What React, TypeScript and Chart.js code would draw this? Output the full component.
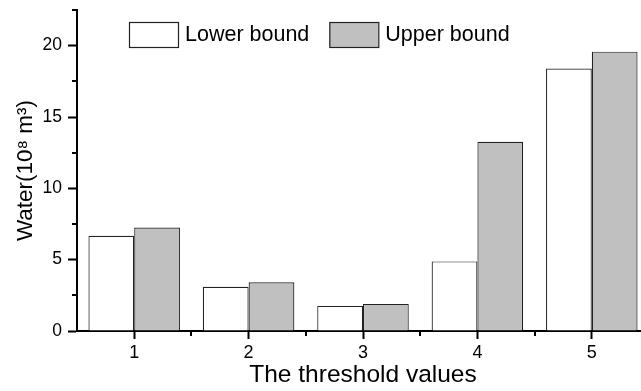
import React, { useEffect, useRef } from "react";
import { Chart, registerables } from "chart.js";

Chart.register(...registerables);

const categories = ["1", "2", "3", "4", "5"];
const lowerBound = [6.67, 3.1, 1.76, 4.88, 18.4];
const upperBound = [7.25, 3.41, 1.9, 13.26, 19.58];
const seriesNames = ["Lower bound", "Upper bound"];
const yMin = 0;
const yMax = 22.5;
const yStep = 5;

const FONT = "'Liberation Sans', Arial, sans-serif";

const minorTicks = {
  id: "minorTicks",
  afterDraw(chart: any) {
    const ctx = chart.ctx;
    const x = chart.scales.x;
    const y = chart.scales.y;
    ctx.save();
    ctx.strokeStyle = "#000";
    ctx.lineWidth = 2;
    for (let v = yMin + yStep / 2; v <= yMax + 1e-9; v += yStep) {
      const py = Math.round(y.getPixelForValue(v));
      ctx.beginPath();
      ctx.moveTo(y.right - 5, py);
      ctx.lineTo(y.right, py);
      ctx.stroke();
    }
    const n = categories.length;
    const step = n > 1 ? x.getPixelForValue(1) - x.getPixelForValue(0) : 0;
    for (let i = 0; i < n; i++) {
      const px = Math.round(x.getPixelForValue(i) + step / 2);
      ctx.beginPath();
      ctx.moveTo(px, x.top);
      ctx.lineTo(px, x.top + 5);
      ctx.stroke();
    }
    ctx.restore();
  },
};

const insideLegend = {
  id: "insideLegend",
  afterDraw(chart: any) {
    const ctx = chart.ctx;
    const area = chart.chartArea;
    const boxW = 49;
    const boxH = 25;
    const gap = 20;
    const fontSize = 21.5;
    let cx = area.left + 52;
    const top = area.top + 12;
    ctx.save();
    ctx.font = `${fontSize}px ${FONT}`;
    ctx.textBaseline = "middle";
    ctx.textAlign = "left";
    chart.data.datasets.forEach((ds: any) => {
      ctx.fillStyle = ds.backgroundColor;
      ctx.fillRect(cx, top, boxW, boxH);
      ctx.strokeStyle = "#222";
      ctx.lineWidth = 1.2;
      ctx.strokeRect(cx + 0.5, top + 0.5, boxW, boxH);
      ctx.fillStyle = "#000";
      const tx = cx + boxW + 7;
      ctx.fillText(ds.label, tx, top + boxH / 2 + 1);
      cx = tx + ctx.measureText(ds.label).width + gap;
    });
    ctx.restore();
  },
};

export default function App() {
  const ref = useRef<HTMLCanvasElement | null>(null);
  useEffect(() => {
    if (!ref.current) return;
    const chart = new Chart(ref.current, {
      type: "bar",
      data: {
        labels: categories,
        datasets: [
          {
            label: seriesNames[0],
            data: lowerBound,
            backgroundColor: "#ffffff",
            borderColor: "#222",
            borderWidth: 1.2,
            categoryPercentage: 0.8,
            barPercentage: 1.0,
          },
          {
            label: seriesNames[1],
            data: upperBound,
            backgroundColor: "#c0c0c0",
            borderColor: "#222",
            borderWidth: 1.2,
            categoryPercentage: 0.8,
            barPercentage: 1.0,
          },
        ],
      },
      options: {
        animation: false,
        responsive: false,
        devicePixelRatio: 1,
        layout: { padding: { left: 0, top: 10, right: 11, bottom: 0 } },
        plugins: {
          legend: { display: false },
          tooltip: { enabled: false },
        },
        scales: {
          x: {
            offset: true,
            grid: {
              offset: false,
              drawOnChartArea: false,
              drawTicks: true,
              tickLength: 8,
              tickWidth: 2,
              tickColor: "#000",
            },
            border: { display: true, color: "#000", width: 2 },
            ticks: {
              color: "#000",
              padding: 3,
              font: { family: FONT, size: 18 },
            },
            title: {
              display: true,
              text: "The threshold values",
              color: "#000",
              font: { family: FONT, size: 24.5 },
              padding: { top: 0, bottom: 1 },
            },
            afterFit: (s: any) => {
              s.height = 60;
              s.paddingLeft = 0;
              s.paddingRight = 0;
            },
          },
          y: {
            min: yMin,
            max: yMax,
            grid: {
              drawOnChartArea: false,
              drawTicks: true,
              tickLength: 9,
              tickWidth: 2,
              tickColor: "#000",
            },
            border: { display: true, color: "#000", width: 2 },
            ticks: {
              stepSize: yStep,
              includeBounds: false,
              color: "#000",
              padding: 6,
              font: { family: FONT, size: 17.5 },
            },
            title: {
              display: true,
              text: "Water(10⁸ m³)",
              color: "#000",
              font: { family: FONT, size: 22.5 },
              padding: { top: 12, bottom: 0 },
            },
            afterFit: (s: any) => {
              s.width = 77;
              s.paddingTop = 0;
              s.paddingBottom = 0;
            },
          },
        },
      },
      plugins: [minorTicks, insideLegend],
    });
    return () => chart.destroy();
  }, []);
  return (
    <div
      style={{
        position: "fixed",
        left: 0,
        top: 0,
        width: 641,
        height: 391,
        overflow: "hidden",
        background: "#fff",
      }}
    >
      <canvas
        ref={ref}
        width={660}
        height={391}
        style={{ display: "block", width: 660, height: 391 }}
      />
    </div>
  );
}
